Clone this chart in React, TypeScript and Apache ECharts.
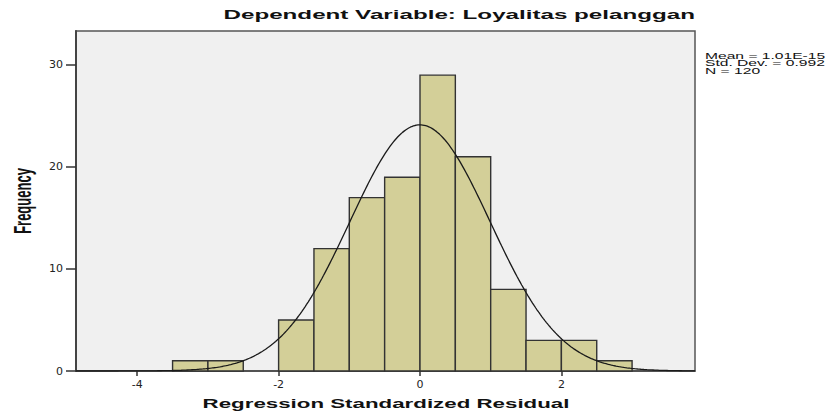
import React, { useEffect, useRef } from "react";
import * as echarts from "echarts";

const binStarts = [-3.5, -3.0, -2.5, -2.0, -1.5, -1.0, -0.5, 0.0, 0.5, 1.0, 1.5, 2.0, 2.5];
const binCounts = [1, 1, 0, 5, 12, 17, 19, 29, 21, 8, 3, 3, 1];
const binWidth = 0.5;
const xTicks = [-4, -2, 0, 2];
const yTicks = [0, 10, 20, 30];
const statMean = 1.01e-15;
const statSd = 0.992;
const statN = 120;
const statLines = ["Mean = 1.01E-15", "Std. Dev. = 0.992", "N = 120"];
const titleText = "Dependent Variable: Loyalitas pelanggan";
const xName = "Regression Standardized Residual";
const yName = "Frequency";

const X_MIN = -4.866;
const X_MAX = 3.89;
const Y_MAX = 33.33;

export default function App() {
  const ref = useRef<HTMLDivElement>(null);
  useEffect(() => {
    if (!ref.current) return;
    const chart = echarts.init(ref.current, undefined, { renderer: "svg" });

    const barData = binStarts
      .map((s, i) => [s, s + binWidth, binCounts[i]])
      .filter((d) => d[2] > 0);

    const curve: number[][] = [];
    const steps = 400;
    for (let i = 0; i <= steps; i++) {
      const x = X_MIN + ((X_MAX - X_MIN) * i) / steps;
      const z = (x - statMean) / statSd;
      const y = (statN * binWidth) / (statSd * Math.sqrt(2 * Math.PI)) * Math.exp(-0.5 * z * z);
      curve.push([x, y]);
    }

    const font = "'Liberation Sans', Arial, sans-serif";
    const sx = 1.86;

    chart.setOption({
      animation: false,
      grid: {
        left: 76,
        right: 137,
        top: 31,
        bottom: 44,
        show: true,
        backgroundColor: "#f0f0f0",
        borderColor: "#555",
        borderWidth: 1.5,
      },
      xAxis: {
        type: "value",
        min: X_MIN,
        max: X_MAX,
        splitLine: { show: false },
        axisLine: { show: true, onZero: false, lineStyle: { color: "#444", width: 1.5 } },
        axisTick: { show: true, length: 5, customValues: xTicks, lineStyle: { color: "#333", width: 1.5 } },
        axisLabel: {
          customValues: xTicks,
          color: "#222",
          fontSize: 11,
          fontFamily: "'DejaVu Sans', sans-serif",
          margin: 8,
        },
      },
      yAxis: {
        type: "value",
        min: 0,
        max: Y_MAX,
        splitLine: { show: false },
        axisLine: { show: true, onZero: false, lineStyle: { color: "#444", width: 2 } },
        axisTick: { show: true, length: 10, customValues: yTicks, lineStyle: { color: "#333", width: 1.5 } },
        axisLabel: {
          customValues: yTicks,
          color: "#222",
          fontSize: 11,
          fontFamily: "'DejaVu Sans', sans-serif",
          margin: 13,
        },
      },
      series: [
        {
          type: "custom",
          data: barData,
          encode: { x: [0, 1], y: 2 },
          renderItem: (params: any, api: any) => {
            const p0 = api.coord([api.value(0), api.value(2)]);
            const p1 = api.coord([api.value(1), 0]);
            return {
              type: "rect",
              shape: { x: p0[0], y: p0[1], width: p1[0] - p0[0], height: p1[1] - p0[1] },
              style: { fill: "#d3cf98", stroke: "#333", lineWidth: 1.4 },
            };
          },
          z: 2,
        },
        {
          type: "line",
          data: curve,
          showSymbol: false,
          symbol: "none",
          lineStyle: { color: "#1a1a1a", width: 1.3 },
          z: 3,
        },
      ],
      graphic: [
        {
          type: "text",
          x: 695,
          y: 14,
          scaleX: sx,
          style: {
            text: titleText,
            fontFamily: font,
            fontWeight: "bold",
            fontSize: 13,
            fill: "#111",
            align: "right",
            verticalAlign: "middle",
          },
        },
        {
          type: "text",
          x: 386,
          y: 404,
          scaleX: sx,
          style: {
            text: xName,
            fontFamily: font,
            fontWeight: "bold",
            fontSize: 12,
            fill: "#111",
            align: "center",
            verticalAlign: "middle",
          },
        },
        {
          type: "text",
          x: 22,
          y: 201,
          rotation: Math.PI / 2,
          scaleY: sx,
          style: {
            text: yName,
            fontFamily: font,
            fontWeight: "bold",
            fontSize: 13,
            fill: "#111",
            align: "center",
            verticalAlign: "middle",
          },
        },
        ...statLines.map((t, i) => ({
          type: "text",
          x: 705,
          y: 56.3 + i * 7.45,
          scaleX: 1.86,
          style: {
            text: t,
            fontFamily: font,
            fontSize: 8.4,
            fill: "#111",
            align: "left",
            verticalAlign: "middle",
          },
        })),
      ],
    });
    return () => chart.dispose();
  }, []);

  return (
    <div style={{ position: "absolute", left: 0, top: 0, width: 832, height: 415, background: "#fff" }}>
      <div ref={ref} style={{ width: 832, height: 415 }} />
    </div>
  );
}
